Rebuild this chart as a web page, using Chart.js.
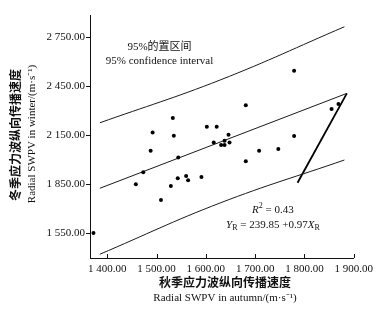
<!DOCTYPE html>
<html>
<head>
<meta charset="utf-8">
<script src="https://cdn.jsdelivr.net/npm/chart.js@4"></script>
<style>
  html, body { margin: 0; padding: 0; background: #fff; }
  canvas { display: block; }
</style>
</head>
<body>
<canvas id="c" width="378" height="315"></canvas>
<script>
// ---- data ----
const pointX = [1372, 1458, 1473, 1488, 1492, 1509, 1529, 1533, 1535, 1543, 1544, 1560, 1564, 1591, 1602, 1622, 1616, 1631, 1638, 1638, 1646, 1648, 1681, 1708, 1747, 1681, 1779, 1779, 1855, 1869];
const pointY = [1550, 1848, 1922, 2054, 2166, 1752, 1838, 2254, 2146, 1885, 2012, 1899, 1873, 1893, 2201, 2201, 2104, 2089, 2089, 2115, 2152, 2105, 2332, 2054, 2064, 1989, 2544, 2144, 2309, 2340];

const upperX = [1385, 1629, 1881];
const upperY = [2225, 2487, 2813];
const lowerX = [1385, 1629, 1881];
const lowerY = [1420, 1734, 1997];
const fitX = [1385, 1886];
const fitY = [1824, 2405];
const pointerX = [1886, 1786];
const pointerY = [2405, 1858];

const xTickValues = [1400, 1500, 1600, 1700, 1800, 1900];
const yTickValues = [1550, 1850, 2150, 2450, 2750];

const xTitleZh = '秋季应力波纵向传播速度';
const xTitleEn = 'Radial SWPV in autumn/(m·s⁻¹)';
const yTitleZh = '冬季应力波纵向传播速度';
const yTitleEn = 'Radial SWPV in winter/(m·s⁻¹)';
const bandLabelZh = '95%的置区间';
const bandLabelEn = '95% confidence interval';
const r2Value = '0.43';
const eqIntercept = '239.85';
const eqSlope = '0.97';

// ---- helpers ----
const SERIF = "'Liberation Serif', 'Times New Roman', serif";
const CJK = "'Noto Sans CJK SC', sans-serif";
function pairs(xs, ys) { return xs.map((x, i) => ({ x: x, y: ys[i] })); }
function fmt(v) {
  const th = Math.floor(v / 1000);
  const rest = String(Math.round(v % 1000)).padStart(3, '0');
  return th + ' ' + rest + '.00';
}
function drawRuns(ctx, runs, cx, cy) {
  let total = 0;
  runs.forEach(r => { ctx.font = r.font; r.w = ctx.measureText(r.t).width; total += r.w; });
  let x = cx - total / 2;
  ctx.textAlign = 'left';
  ctx.textBaseline = 'middle';
  runs.forEach(r => { ctx.font = r.font; ctx.fillText(r.t, x, cy + (r.dy || 0)); x += r.w; });
}

const textPlugin = {
  id: 'texts',
  afterDraw(chart) {
    const ctx = chart.ctx;
    const xs = chart.scales.x, ys = chart.scales.y;
    const area = chart.chartArea;
    ctx.save();
    // inward x ticks
    ctx.strokeStyle = '#111';
    ctx.lineWidth = 1;
    xTickValues.forEach(v => {
      const px = Math.round(xs.getPixelForValue(v)) + 0.5;
      ctx.beginPath();
      ctx.moveTo(px, area.bottom);
      ctx.lineTo(px, area.bottom - 4);
      ctx.stroke();
    });
    ctx.fillStyle = '#111';
    // axis titles
    ctx.textAlign = 'center';
    ctx.textBaseline = 'middle';
    ctx.font = 'bold 12px ' + CJK;
    ctx.fillText(xTitleZh, 225, 282);
    ctx.font = '11px ' + SERIF;
    ctx.fillText(xTitleEn, 225, 298);

    ctx.save();
    ctx.translate(15, 135);
    ctx.rotate(-Math.PI / 2);
    ctx.font = 'bold 12px ' + CJK;
    ctx.fillText(yTitleZh, 0, 0);
    ctx.restore();
    ctx.save();
    ctx.translate(32, 134);
    ctx.rotate(-Math.PI / 2);
    ctx.font = '11px ' + SERIF;
    ctx.fillText(yTitleEn, 0, 0);
    ctx.restore();

    // band label
    const bx = xs.getPixelForValue(1506);
    ctx.font = '11px ' + SERIF + ', ' + CJK;
    ctx.fillText(bandLabelZh, bx, ys.getPixelForValue(2689));
    ctx.font = '11px ' + SERIF;
    ctx.fillText(bandLabelEn, bx, ys.getPixelForValue(2603));

    // regression annotation
    const ax = xs.getPixelForValue(1736);
    const it = 'italic 11px ' + SERIF;
    const rg = '11px ' + SERIF;
    const sm = '8px ' + SERIF;
    drawRuns(ctx, [
      { t: 'R', font: it },
      { t: '2', font: sm, dy: -4 },
      { t: ' = ' + r2Value, font: rg }
    ], ax, ys.getPixelForValue(1691));
    drawRuns(ctx, [
      { t: 'Y', font: it },
      { t: 'R', font: sm, dy: 3 },
      { t: ' = ' + eqIntercept + ' +' + eqSlope, font: rg },
      { t: 'X', font: it },
      { t: 'R', font: sm, dy: 3 }
    ], ax, ys.getPixelForValue(1599));
    ctx.restore();
  }
};

const lineStyle = { showLine: true, pointRadius: 0, borderColor: '#1a1a1a', borderWidth: 1, fill: false };

new Chart(document.getElementById('c'), {
  type: 'scatter',
  data: {
    datasets: [
      { data: pairs(pointX, pointY), pointRadius: 2, pointBackgroundColor: '#000', pointBorderWidth: 0, showLine: false, clip: false },
      Object.assign({ data: pairs(upperX, upperY), tension: 0.4 }, lineStyle),
      Object.assign({ data: pairs(lowerX, lowerY), tension: 0.4 }, lineStyle),
      Object.assign({ data: pairs(fitX, fitY) }, lineStyle),
      Object.assign({}, lineStyle, { data: pairs(pointerX, pointerY), borderWidth: 1.8, borderColor: '#000' })
    ]
  },
  options: {
    responsive: false,
    devicePixelRatio: 1,
    animation: false,
    layout: { padding: { top: 15, right: 24, left: 0, bottom: 0 } },
    plugins: { legend: { display: false }, tooltip: { enabled: false } },
    scales: {
      x: {
        type: 'linear',
        min: 1365, max: 1900,
        afterBuildTicks: s => { s.ticks = xTickValues.map(v => ({ value: v })); },
        afterFit: s => { s.height = 57; },
        grid: { display: true, drawOnChartArea: false, drawTicks: false },
        border: { display: true, color: '#111', width: 1 },
        ticks: { callback: v => fmt(v), padding: 5, color: '#111', maxRotation: 0, autoSkip: false, font: { family: SERIF, size: 11 } }
      },
      y: {
        type: 'linear',
        min: 1397, max: 2885,
        afterBuildTicks: s => { s.ticks = yTickValues.map(v => ({ value: v })); },
        afterFit: s => { s.width = 90; },
        grid: { display: true, drawOnChartArea: false, drawTicks: true, tickLength: 4, color: '#111' },
        border: { display: true, color: '#111', width: 1 },
        ticks: { callback: v => fmt(v), padding: 1, color: '#111', autoSkip: false, font: { family: SERIF, size: 11 } }
      }
    }
  },
  plugins: [textPlugin]
});
</script>
</body>
</html>
